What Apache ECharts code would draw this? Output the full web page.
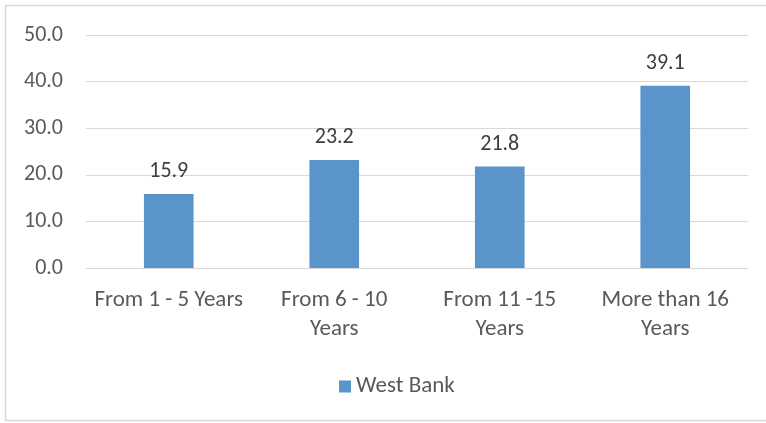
<!DOCTYPE html>
<html><head><meta charset="utf-8">
<script src="https://cdn.jsdelivr.net/npm/echarts@6/dist/echarts.min.js"></script>
<style>html,body{margin:0;padding:0;background:#fff}#c{width:766px;height:423px}</style>
</head><body><div id="c"></div>
<script>
const categories = ["From 1 - 5 Years", "From 6 - 10\nYears", "From 11 -15\nYears", "More than 16\nYears"];
const seriesName = "West Bank";
const values = [15.9, 23.2, 21.8, 39.1];
const yTicks = [0, 10, 20, 30, 40, 50];

const chart = echarts.init(document.getElementById('c'), null, {renderer: 'canvas'});
const font = "Calibri, Carlito, Lato, 'Liberation Sans', 'DejaVu Sans', sans-serif";
chart.setOption({
  animation: false,
  textStyle: {fontFamily: font},
  graphic: [{type: 'rect', shape: {x: 5.5, y: 5.5, width: 800, height: 415}, style: {fill: 'none', stroke: '#d9d9d9', lineWidth: 1.5}, silent: true, z: -1}],
  grid: {left: 86, right: 18, top: 35, bottom: 155, containLabel: false},
  legend: {data: [seriesName], top: 370, left: 334, itemWidth: 12, itemHeight: 12, itemGap: 5,
    textStyle: {color: '#595959', fontSize: 23, fontFamily: font}, icon: 'rect'},
  xAxis: {type: 'category', data: categories,
    axisLine: {lineStyle: {color: '#d9d9d9', width: 1}}, axisTick: {show: false},
    axisLabel: {color: '#595959', fontSize: 23, margin: 18, lineHeight: 29, interval: 0, fontFamily: font}},
  yAxis: {type: 'value', min: yTicks[0], max: yTicks[yTicks.length - 1], interval: 10,
    axisLine: {show: false}, axisTick: {show: false},
    splitLine: {lineStyle: {color: '#d9d9d9', width: 1}},
    axisLabel: {color: '#595959', fontSize: 22, margin: 23, formatter: v => v.toFixed(1), fontFamily: font}},
  series: [{name: seriesName, type: 'bar', data: values, barWidth: '30%',
    itemStyle: {color: '#5b93cb'},
    label: {show: true, position: 'top', distance: 11, color: '#404040', fontSize: 22, formatter: p => p.value.toFixed(1), fontFamily: font}}]
});
</script></body></html>
